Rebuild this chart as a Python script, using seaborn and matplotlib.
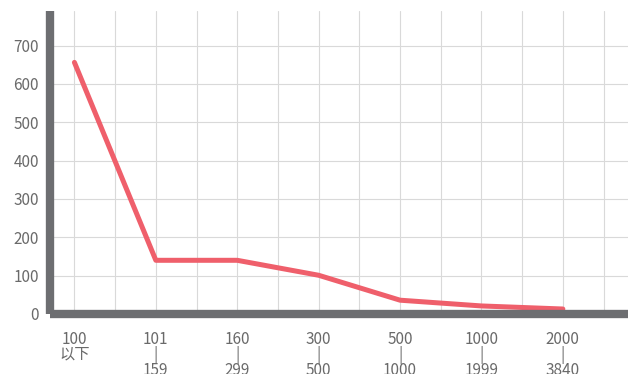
import matplotlib
matplotlib.use("Agg")
import matplotlib.pyplot as plt
import seaborn as sns
import pandas as pd

categories = ["100\n以下", "101\n|\n159", "160\n|\n299", "300\n|\n500", "500\n|\n1000", "1000\n|\n1999", "2000\n|\n3840"]
values = [656, 140, 140, 101, 36, 21, 13]
yticks = [0, 100, 200, 300, 400, 500, 600, 700]

sns.set_theme(style="white")
plt.rcParams['font.family'] = ['Noto Sans CJK SC', 'DejaVu Sans']

df = pd.DataFrame({"x": list(range(len(categories))), "v": values})

fig = plt.figure(figsize=(6.28, 3.74), dpi=100)
ax = fig.add_axes([50/628, (374-314)/374, 1-50/628, (314-11)/374])

# grid
for gx in [i * 0.5 for i in range(0, 14)]:
    ax.axvline(gx, color="#d9d9d9", lw=0.8, zorder=0)
for gy in yticks[1:]:
    ax.axhline(gy, color="#d9d9d9", lw=0.8, zorder=0)

sns.lineplot(data=df, x="x", y="v", ax=ax, color="#ef5f6b", lw=3.6, zorder=3)

ax.set_xlim(-0.3, 6.8)
ax.set_ylim(0, 790)
ax.set_xticks(range(len(categories)))
ax.set_xticklabels(categories, linespacing=0.86)
ax.set_yticks(yticks)
ax.set_xlabel("")
ax.set_ylabel("")
ax.tick_params(axis="both", length=0, labelsize=11, colors="#6a6a6a")
ax.tick_params(axis="x", pad=12)
ax.tick_params(axis="y", pad=8)
for s in ["top", "right"]:
    ax.spines[s].set_visible(False)
for s in ["left", "bottom"]:
    ax.spines[s].set_color("#6d6e71")
    ax.spines[s].set_linewidth(6)
    ax.spines[s].set_zorder(4)
    ax.spines[s].set_capstyle("butt")

fig.savefig("out.png", dpi=100)
